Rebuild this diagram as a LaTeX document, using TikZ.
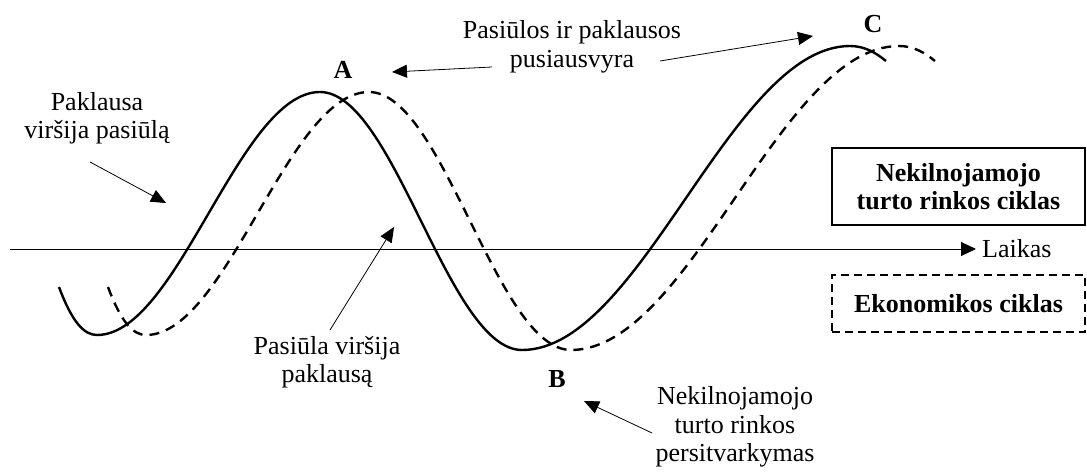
\documentclass[tikz,border=0pt]{standalone}
\usepackage{fontspec}
\setmainfont{Liberation Serif}
\usetikzlibrary{arrows.meta}
\begin{document}
\begin{tikzpicture}[x=1pt,y=-1pt,
  lbl/.style={font=\fontsize{26}{28.5}\selectfont, align=center, inner sep=0pt},
  bold/.style={font=\fontsize{26}{28.5}\selectfont\bfseries, align=center, inner sep=0pt},
  ann/.style={line width=0.8pt, -{Triangle[length=15pt,width=13pt]}},
  axisline/.style={line width=0.9pt, -{Triangle[length=15pt,width=14pt]}},
  curve/.style={line width=2.4pt, line join=round},
  dcurve/.style={curve, dash pattern=on 10pt off 7pt},
  boxs/.style={bold, draw, line width=2.2pt, minimum width=253pt, minimum height=77pt},
  boxd/.style={bold, draw, line width=2pt, dash pattern=on 8pt off 5pt, minimum width=253pt, minimum height=57pt}]
\useasboundingbox (0,0) rectangle (1087,473);

% cycle curve
\def\cyclepath{(59,287) .. controls (72,322) and (84,335) .. (97,335)
  .. controls (178,335) and (239,92) .. (320,92)
  .. controls (394,92) and (448,350) .. (522,350)
  .. controls (641,350) and (731,46) .. (850,46)
  .. controls (865,46) and (876,53) .. (886,61)}
\draw[curve] \cyclepath;
\draw[dcurve, xshift=49pt] \cyclepath;

% time axis
\coordinate (ax0) at (10,249);
\coordinate (ax1) at (976,249);
\draw[axisline] (ax0) -- (ax1);
\node[lbl, anchor=base west] (laik) at (982,258) {Laikas};

% point labels
\node[bold, anchor=base] (A) at (343,79) {A};
\node[bold, anchor=base] (B) at (557,387) {B};
\node[bold, anchor=base] (C) at (873,33) {C};

% text labels
\node[lbl] (dem) at (97,118) {Paklausa\\viršija pasiūlą};
\node[lbl] (eq) at (572,47) {Pasiūlos ir paklausos\\pusiausvyra};
\node[lbl] (sup) at (327,362) {Pasiūla viršija\\paklausą};
\node[lbl] (re) at (735,427) {Nekilnojamojo\\turto rinkos\\persitvarkymas};

% legend boxes
\node[boxs] (box1) at (958.5,186.5) {Nekilnojamojo\\turto rinkos ciklas};
\node[boxd] (box2) at (958.5,303.5) {Ekonomikos ciklas};

% annotation arrows
\coordinate (d0) at (90,162);   \coordinate (d1) at (166,203);
\coordinate (s0) at (330,330);  \coordinate (s1) at (394,227);
\coordinate (e0) at (492,67);   \coordinate (e1) at (392,72);
\coordinate (f0) at (660,61);   \coordinate (f1) at (813,36);
\coordinate (r0) at (652,433);  \coordinate (r1) at (584,401);
\draw[ann] (d0) -- (d1);
\draw[ann] (s0) -- (s1);
\draw[ann] (e0) -- (e1);
\draw[ann] (f0) -- (f1);
\draw[ann] (r0) -- (r1);
\end{tikzpicture}
\end{document}
